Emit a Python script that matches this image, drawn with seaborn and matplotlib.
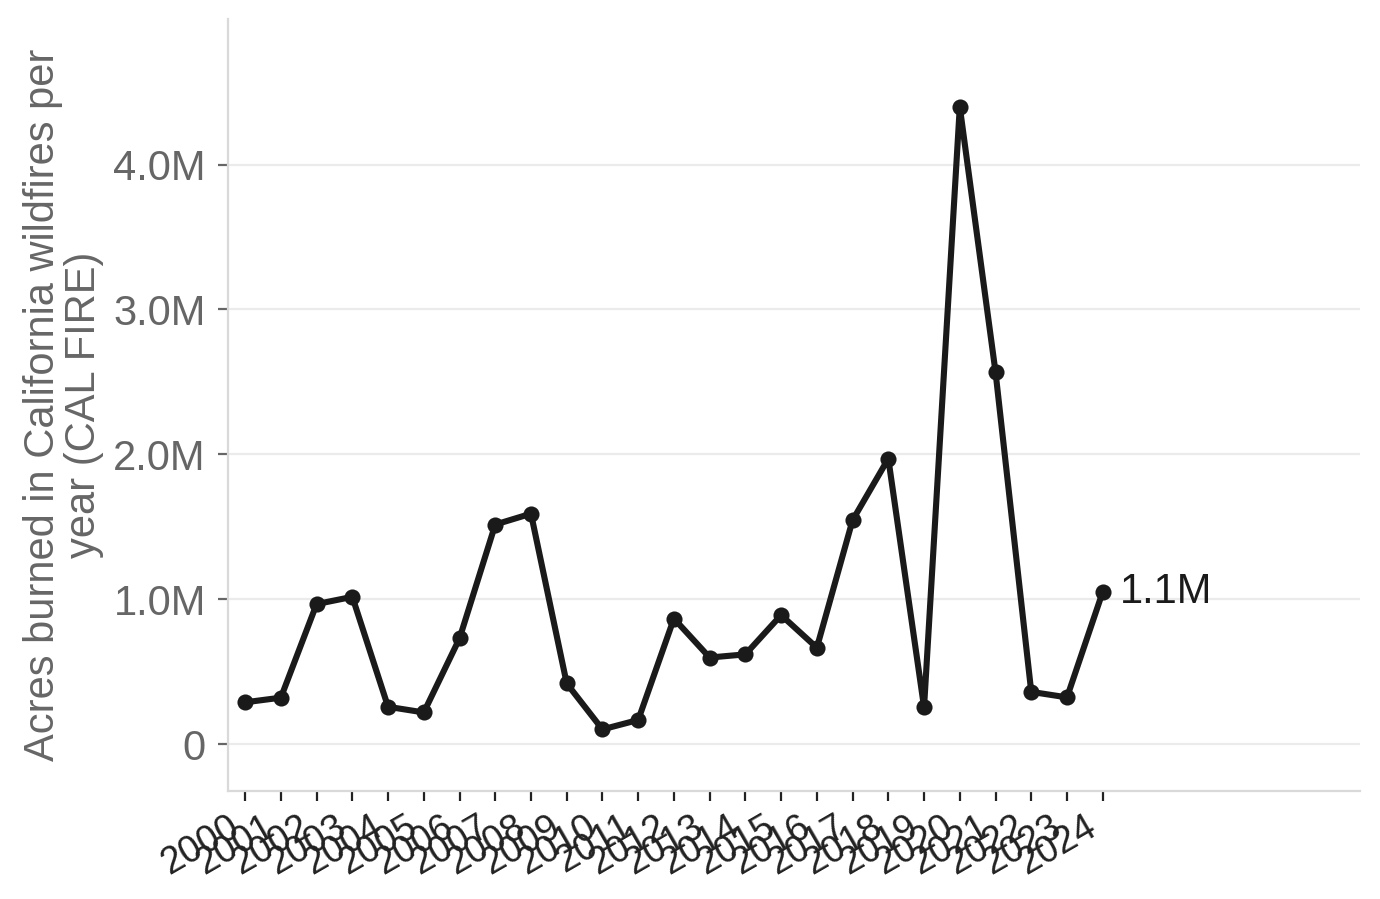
import matplotlib
matplotlib.use("Agg")
import matplotlib.pyplot as plt
import matplotlib.ticker as mticker
import seaborn as sns
import pandas as pd

years = list(range(2000, 2025))
acres = [288000, 320000, 966000, 1016000, 257000, 218000, 729000, 1515000,
         1590000, 418000, 101000, 166000, 866000, 597000, 619000, 890000,
         665000, 1545000, 1970000, 254000, 4398000, 2568000, 360000, 322000,
         1050000]
y_label = "Acres burned in California wildfires per\nyear (CAL FIRE)"

df = pd.DataFrame({"year": years, "acres": acres})

sns.set_theme(style="white")
plt.rcParams["font.family"] = ["Liberation Sans", "DejaVu Sans"]

fig = plt.figure(figsize=(6.9, 4.495), dpi=200)
ax = fig.add_axes([0.1652, 0.1205, 0.9855 - 0.1652, 0.9789 - 0.1205])

sns.lineplot(data=df, x="year", y="acres", ax=ax, color="#1a1a1a",
             linewidth=2.2, marker="o", markersize=5.8, markeredgewidth=0)

ax.set_xlim(1999.52, 2031.2)
ax.set_ylim(-322000, 5005000)
ax.set_yticks([0, 1e6, 2e6, 3e6, 4e6])
ax.yaxis.set_major_formatter(mticker.FuncFormatter(
    lambda v, p: "0" if v == 0 else f"{v/1e6:.1f}M"))
ax.set_xticks(years)
ax.set_xticklabels([str(y) for y in years], rotation=30, ha="right",
                   fontsize=13.5, color="#222222")

ax.grid(axis="y", color="#ebebeb", linewidth=0.8)
ax.grid(axis="x", visible=False)
ax.set_axisbelow(True)

for s in ["top", "right"]:
    ax.spines[s].set_visible(False)
for s in ["left", "bottom"]:
    ax.spines[s].set_color("#d9d9d9")
    ax.spines[s].set_linewidth(0.8)

ax.tick_params(axis="y", length=3.5, width=0.8, color="#666666",
               labelcolor="#666666", labelsize=15, pad=4.5, left=True)
ax.tick_params(axis="x", length=3.5, width=0.8, color="#222222",
               pad=3, bottom=True)

ax.set_xlabel("")
ax.set_ylabel(y_label, fontsize=15, color="#666666", labelpad=3.2,
              linespacing=1.05)

last_v = acres[-1]
ax.annotate(f"{last_v/1e6:.1f}M", xy=(years[-1], last_v), xytext=(6, 0),
            textcoords="offset points", va="center", ha="left",
            fontsize=15, color="#1a1a1a")

fig.savefig("out.png", dpi=200)
